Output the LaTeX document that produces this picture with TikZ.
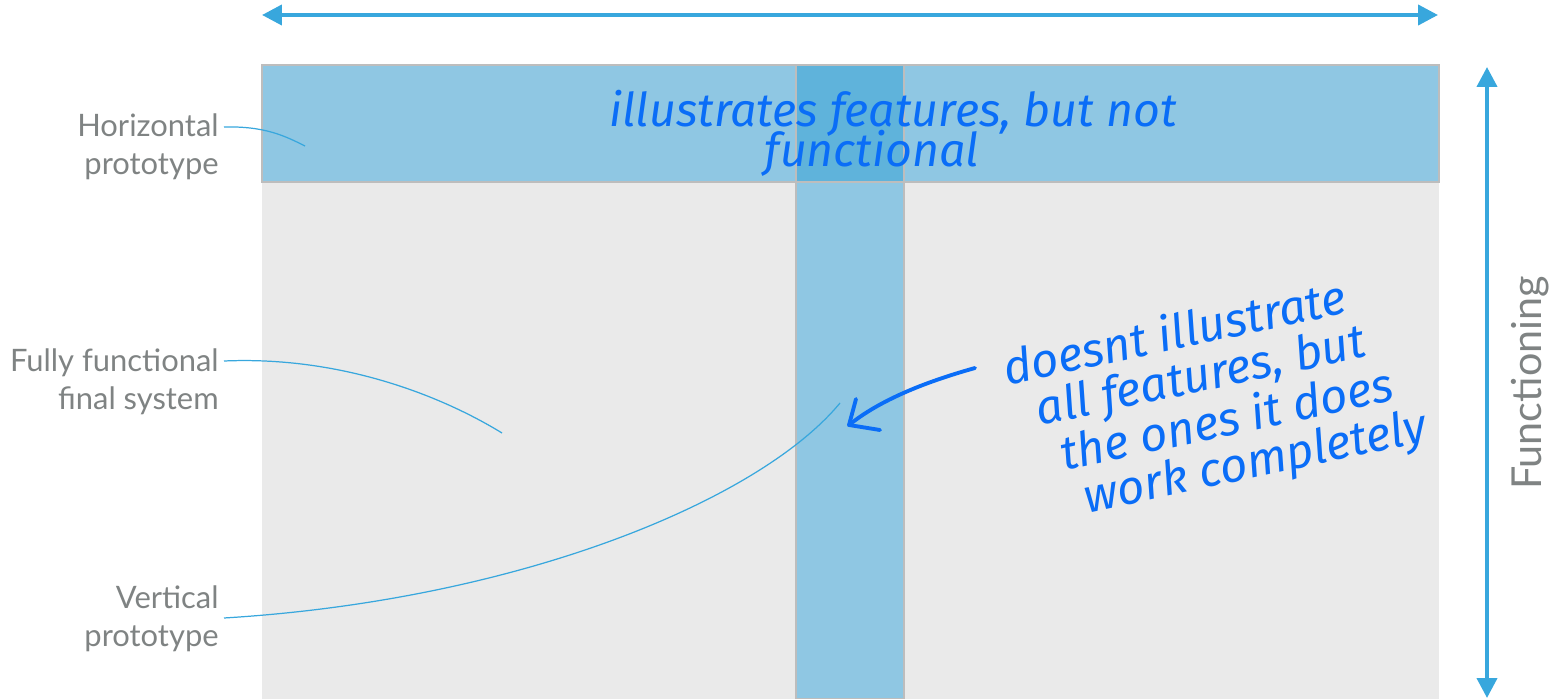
\documentclass[tikz,border=0pt]{standalone}
\usepackage{fontspec}
\setmainfont{Lato}
\newfontfamily\handfont{Fira Sans}
\usetikzlibrary{arrows.meta}
\definecolor{axisblue}{HTML}{38A7DD}
\definecolor{bandblue}{HTML}{8FC7E3}
\definecolor{crossblue}{HTML}{5FB3DB}
\definecolor{bggray}{HTML}{EAEAEA}
\definecolor{edgegray}{HTML}{BDBDBD}
\definecolor{labelgray}{HTML}{7F8383}
\definecolor{inkblue}{HTML}{0A6DF7}
\tikzset{
  axisarrow/.style={draw=axisblue, line width=2.3pt,
    {Triangle[length=0.4cm,width=0.4cm]}-{Triangle[length=0.4cm,width=0.4cm]}},
  band/.style={fill=bandblue, draw=edgegray, line width=0.9pt},
  cross/.style={fill=crossblue, draw=edgegray, line width=0.9pt},
  sidelabel/.style={text=labelgray, align=right, anchor=east, inner sep=0pt,
    font=\fontsize{17.6}{21.5}\selectfont},
  leader/.style={draw=axisblue, line width=0.7pt},
  hand/.style={text=inkblue, inner sep=0pt, font=\handfont\itshape\fontsize{26.5}{23}\selectfont},
  ink/.style={draw=inkblue, line width=2.2pt, line cap=round, line join=round}
}
\begin{document}
\begin{tikzpicture}[x=0.02cm, y=-0.02cm]
\useasboundingbox (0,0) rectangle (1565,699);
% background grid area
\fill[bggray] (262,65) rectangle (1439,699);
\path[band] (262,65) rectangle (1439,182);
\path[band] (796,65) rectangle (904,699);
\path[cross] (796,65) rectangle (904,182);
% axes
\coordinate (tl) at (262,15);
\coordinate (tr) at (1438,15);
\coordinate (rt) at (1487,67);
\coordinate (rb) at (1487,698);
\draw[axisarrow] (tl) -- (tr);
\draw[axisarrow] (rt) -- (rb);
\node[text=labelgray, rotate=90, inner sep=0pt, font=\fontsize{23.5}{24}\selectfont] (func) at (1530,383) {Functioning};
% side labels
\node[sidelabel] (hlab) at (219,147) {Horizontal\\prototype};
\node[sidelabel] (flab) at (219,382) {Fully functional\\final system};
\node[sidelabel] (vlab) at (219,619) {Vertical\\prototype};
\coordinate (hs) at (224,127);
\coordinate (he) at (305,146);
\coordinate (fs) at (224,361);
\coordinate (fe) at (502,433);
\coordinate (vs) at (224,618);
\coordinate (ve) at (840,403);
\draw[leader] (hs) .. controls (265,126) and (285,136) .. (he);
\draw[leader] (fs) .. controls (340,356) and (440,395) .. (fe);
\draw[leader] (vs) .. controls (520,600) and (760,500) .. (ve);
% handwritten notes
\node[hand] (n1) at (893,113) {illustrates features, but not};
\node[hand] (n2) at (872,153) {functional};
\node[hand, rotate=12, align=left, font=\handfont\itshape\fontsize{27}{26.5}\selectfont] (n3) at (1215,400)
  {doesnt illustrate\\\hspace*{0.5em}all features, but\\\hspace*{0.8em}the ones it does\\\hspace*{1.1em}work completely};
\coordinate (as) at (975,368);
\coordinate (at) at (849,425);
\draw[ink] (as) .. controls (925,382) and (880,400) .. (at);
\draw[ink] (856,399) -- (at) -- (880,430);
\end{tikzpicture}
\end{document}
